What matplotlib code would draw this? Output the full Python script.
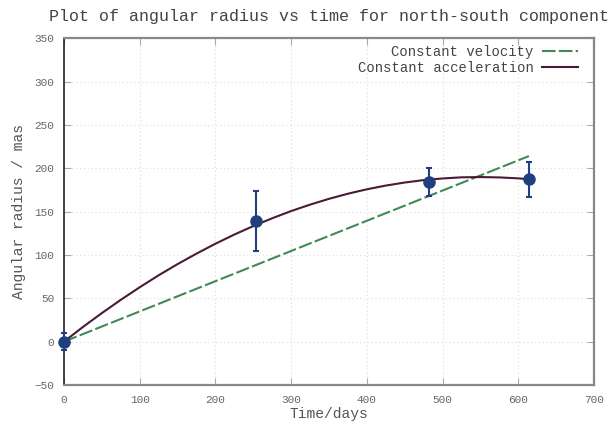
import matplotlib.pyplot as plt
import numpy as np

# observed data points (time in days, angular radius in mas)
obs_time = [0, 253, 482, 614]
obs_radius = [0, 139, 184, 187]
obs_err = [10, 35, 16, 20]

# constant velocity fit
vel_time = [0, 614]
vel_radius = [0, 214]

# constant acceleration fit
acc_time = [0, 25, 50, 75, 100, 125, 150, 175, 200, 225, 250, 275, 300,
            325, 350, 375, 400, 425, 450, 475, 500, 525, 550, 575, 600, 614]
acc_radius = [0, 16.9, 32.9, 48.2, 62.7, 76.5, 89.4, 101.5, 112.9, 123.5,
              133.3, 142.3, 150.6, 158.0, 164.7, 170.6, 175.7, 180.0, 183.5,
              186.3, 188.2, 189.5, 189.8, 189.4, 188.3, 187.3]

plt.rcParams["font.family"] = ["Liberation Mono", "DejaVu Sans Mono"]

fig = plt.figure(figsize=(6.11, 4.24), dpi=100)
ax = fig.add_axes([0.1047, 0.092, 0.8675, 0.818])

ax.plot(vel_time, vel_radius, color="#3f8a55", lw=1.5,
        dashes=(6.5, 1.6), label="Constant velocity", zorder=2)
ax.plot(acc_time, acc_radius, color="#4a1a37", lw=1.5,
        label="Constant acceleration", zorder=2)
ax.errorbar(obs_time, obs_radius, yerr=obs_err, fmt="o", color="#1f3f7f",
            ms=8, elinewidth=1.5, capsize=2.5, capthick=1.5, zorder=3,
            clip_on=False)

ax.set_xlim(0, 700)
ax.set_ylim(-50, 350)
ax.set_xticks(np.arange(0, 701, 100))
ax.set_yticks(np.arange(-50, 351, 50))

ax.grid(True, color="#dddddd", linestyle=(0, (1, 2.5)), lw=0.8)
ax.tick_params(direction="in", length=5, top=True, right=True,
               colors="#aaaaaa", labelcolor="#666666", labelsize=8, pad=7)

for side in ["top", "right", "bottom"]:
    ax.spines[side].set_color("#888888")
    ax.spines[side].set_linewidth(1.6)
ax.spines["left"].set_color("#222222")
ax.spines["left"].set_linewidth(1.2)

ax.set_xlabel("Time/days", fontsize=10.5, color="#555555", labelpad=2)
ax.set_ylabel("Angular radius / mas", fontsize=10.5, color="#555555",
              labelpad=6)
ax.set_title("Plot of angular radius vs time for north-south component",
             fontsize=12, color="#444444", pad=12)

leg = ax.legend(loc="upper right", bbox_to_anchor=(0.970, 0.980),
                frameon=False, markerfirst=False, fontsize=10,
                handlelength=2.6, labelspacing=0.15, borderaxespad=0,
                borderpad=0, handletextpad=0.6)
for t in leg.get_texts():
    t.set_color("#444444")

fig.savefig("out.png", dpi=100)
